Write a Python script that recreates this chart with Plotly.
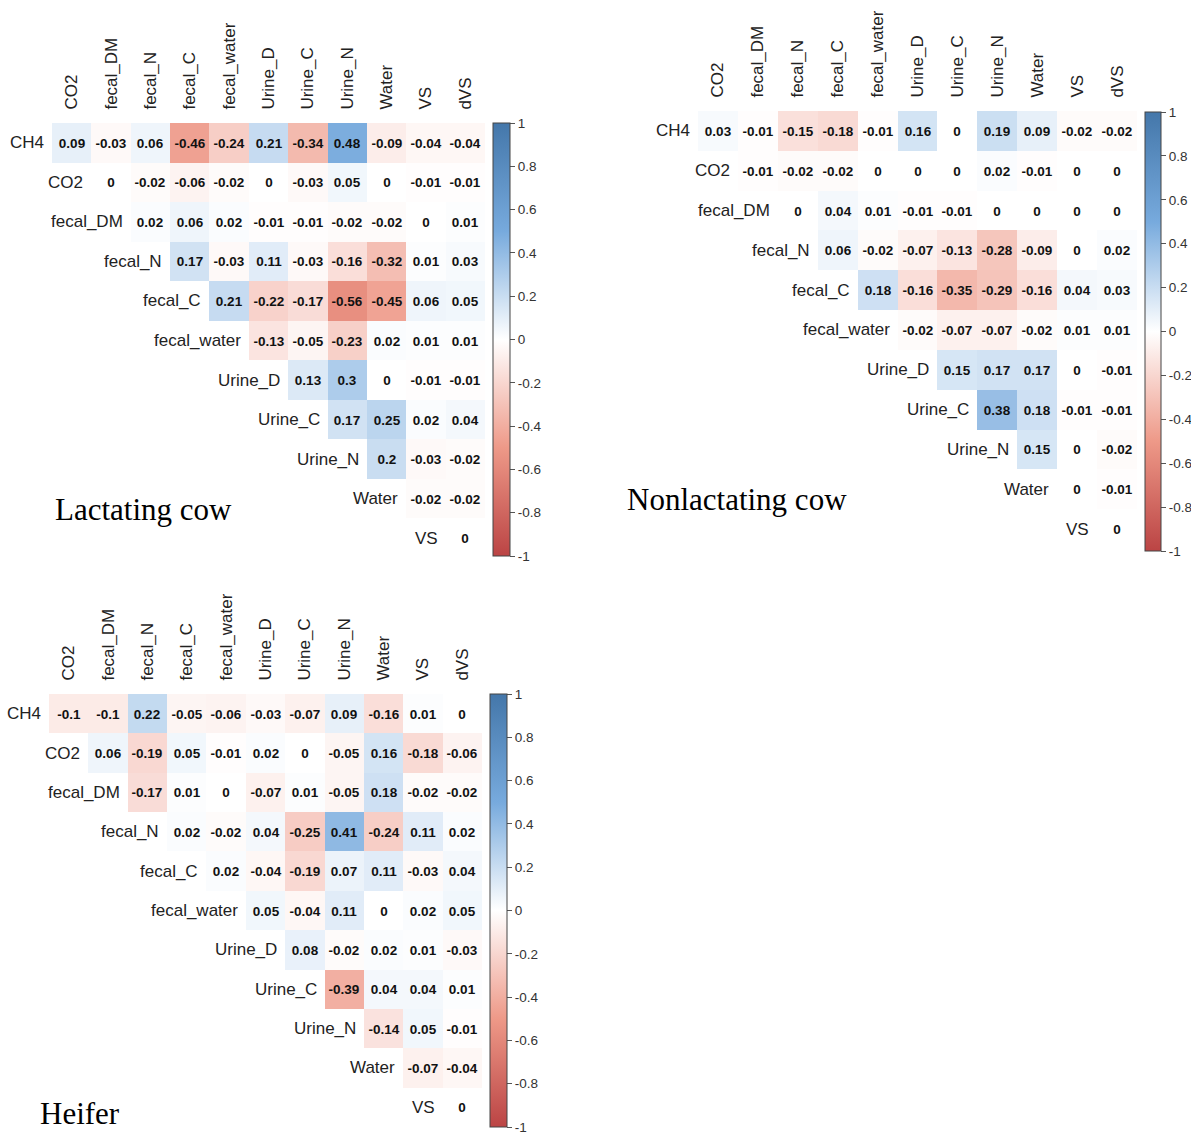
import plotly.graph_objects as go

# ---------------- data ----------------
col_labels = ["CO2", "fecal_DM", "fecal_N", "fecal_C", "fecal_water",
              "Urine_D", "Urine_C", "Urine_N", "Water", "VS", "dVS"]
row_labels = ["CH4", "CO2", "fecal_DM", "fecal_N", "fecal_C", "fecal_water",
              "Urine_D", "Urine_C", "Urine_N", "Water", "VS"]

lactating = [
    [0.09, -0.03, 0.06, -0.46, -0.24, 0.21, -0.34, 0.48, -0.09, -0.04, -0.04],
    [0, -0.02, -0.06, -0.02, 0, -0.03, 0.05, 0, -0.01, -0.01],
    [0.02, 0.06, 0.02, -0.01, -0.01, -0.02, -0.02, 0, 0.01],
    [0.17, -0.03, 0.11, -0.03, -0.16, -0.32, 0.01, 0.03],
    [0.21, -0.22, -0.17, -0.56, -0.45, 0.06, 0.05],
    [-0.13, -0.05, -0.23, 0.02, 0.01, 0.01],
    [0.13, 0.3, 0, -0.01, -0.01],
    [0.17, 0.25, 0.02, 0.04],
    [0.2, -0.03, -0.02],
    [-0.02, -0.02],
    [0],
]

nonlactating = [
    [0.03, -0.01, -0.15, -0.18, -0.01, 0.16, 0, 0.19, 0.09, -0.02, -0.02],
    [-0.01, -0.02, -0.02, 0, 0, 0, 0.02, -0.01, 0, 0],
    [0, 0.04, 0.01, -0.01, -0.01, 0, 0, 0, 0],
    [0.06, -0.02, -0.07, -0.13, -0.28, -0.09, 0, 0.02],
    [0.18, -0.16, -0.35, -0.29, -0.16, 0.04, 0.03],
    [-0.02, -0.07, -0.07, -0.02, 0.01, 0.01],
    [0.15, 0.17, 0.17, 0, -0.01],
    [0.38, 0.18, -0.01, -0.01],
    [0.15, 0, -0.02],
    [0, -0.01],
    [0],
]

heifer = [
    [-0.1, -0.1, 0.22, -0.05, -0.06, -0.03, -0.07, 0.09, -0.16, 0.01, 0],
    [0.06, -0.19, 0.05, -0.01, 0.02, 0, -0.05, 0.16, -0.18, -0.06],
    [-0.17, 0.01, 0, -0.07, 0.01, -0.05, 0.18, -0.02, -0.02],
    [0.02, -0.02, 0.04, -0.25, 0.41, -0.24, 0.11, 0.02],
    [0.02, -0.04, -0.19, 0.07, 0.11, -0.03, 0.04],
    [0.05, -0.04, 0.11, 0, 0.02, 0.05],
    [0.08, -0.02, 0.02, 0.01, -0.03],
    [-0.39, 0.04, 0.04, 0.01],
    [-0.14, 0.05, -0.01],
    [-0.07, -0.04],
    [0],
]

titles = ["Lactating cow", "Nonlactating cow", "Heifer"]

cbar_vals = [1, 0.8, 0.6, 0.4, 0.2, 0, -0.2, -0.4, -0.6, -0.8, -1]
cbar_text = ["1", "0.8", "0.6", "0.4", "0.2", "0", "-0.2", "-0.4", "-0.6", "-0.8", "-1"]

# ---------------- layout geometry (pixels) ----------------
W, H = 1191, 1141
panels = [
    dict(cx=(52, 485), cy=(123, 558), bx=493, bt=17, by=123, bl=433, tx=53, ty=509),
    dict(cx=(698, 1137), cy=(111, 549), bx=1145, bt=16, by=112, bl=439, tx=625, ty=500),
    dict(cx=(49, 482), cy=(694, 1127), bx=490, bt=17, by=694, bl=433, tx=38, ty=1113),
]

colorscale = [
    [0.0, "#BB4444"],
    [0.25, "#EE9988"],
    [0.5, "#FFFFFF"],
    [0.75, "#77AADD"],
    [1.0, "#4477AA"],
]

LABEL_FONT = "Liberation Sans, Arial, sans-serif"
fig = go.Figure()

def px_x(p):
    return p / W

def px_y(p):
    return 1 - p / H

datasets = [lactating, nonlactating, heifer]
for k, (data, geo, title) in enumerate(zip(datasets, panels, titles)):
    n = len(col_labels)
    z = [[None] * n for _ in range(len(row_labels))]
    txt = [[""] * n for _ in range(len(row_labels))]
    for i, row in enumerate(data):
        for j, v in enumerate(row):
            z[i][i + j] = v
            txt[i][i + j] = f"{v:g}"
    ax = "" if k == 0 else str(k + 1)
    fig.add_trace(go.Heatmap(
        z=z, text=txt, texttemplate="%{text}",
        x=list(range(n)), y=list(range(len(row_labels))),
        xaxis="x" + ax, yaxis="y" + ax,
        zmin=-1, zmax=1, colorscale=colorscale,
        textfont=dict(family=LABEL_FONT, size=13.5, color="#111", weight="bold"),
        hoverongaps=False,
        colorbar=dict(
            x=px_x(geo["bx"]), xanchor="left",
            y=px_y(geo["by"]), yanchor="top",
            len=geo["bl"], lenmode="pixels",
            thickness=geo["bt"], thicknessmode="pixels",
            xpad=0, ypad=0,
            outlinewidth=1, outlinecolor="#444",
            tickmode="array", tickvals=cbar_vals, ticktext=cbar_text,
            ticks="outside", ticklen=5, tickcolor="#555",
            tickfont=dict(family=LABEL_FONT, size=13.5, color="#333"),
        ),
    ))
    fig.update_layout(**{
        "xaxis" + ax: dict(
            domain=[px_x(geo["cx"][0]), px_x(geo["cx"][1])],
            anchor="y" + ax, range=[-0.5, n - 0.5], side="top",
            tickmode="array", tickvals=list(range(n)), ticktext=col_labels,
            tickangle=-90, ticks="outside", ticklen=9, tickcolor="rgba(0,0,0,0)",
            tickfont=dict(family=LABEL_FONT, size=17, color="#222"),
            showgrid=False, zeroline=False, showline=False, fixedrange=True,
        ),
        "yaxis" + ax: dict(
            domain=[px_y(geo["cy"][1]), px_y(geo["cy"][0])],
            anchor="x" + ax, range=[len(row_labels) - 0.5, -0.5],
            showticklabels=False, ticks="", showgrid=False, zeroline=False,
            showline=False, fixedrange=True,
        ),
    })
    for i, lab in enumerate(row_labels):
        fig.add_annotation(
            x=i - 0.5, y=i, xref="x" + ax, yref="y" + ax,
            text=lab, showarrow=False, xanchor="right", yanchor="middle",
            xshift=-6, font=dict(family=LABEL_FONT, size=17, color="#222"),
        )
    fig.add_annotation(
        x=px_x(geo["tx"]), y=px_y(geo["ty"]), xref="paper", yref="paper",
        text=title, showarrow=False, xanchor="left", yanchor="middle",
        font=dict(family="Liberation Serif, Times New Roman, serif", size=31, color="black"),
    )

fig.update_layout(
    width=W, height=H,
    margin=dict(l=0, r=0, t=0, b=0, autoexpand=False),
    paper_bgcolor="white", plot_bgcolor="white",
    showlegend=False,
)

fig.write_html(
    "out.html",
    config={"displayModeBar": False},
    post_script="document.body.style.margin='0';document.body.style.overflow='hidden';",
)
